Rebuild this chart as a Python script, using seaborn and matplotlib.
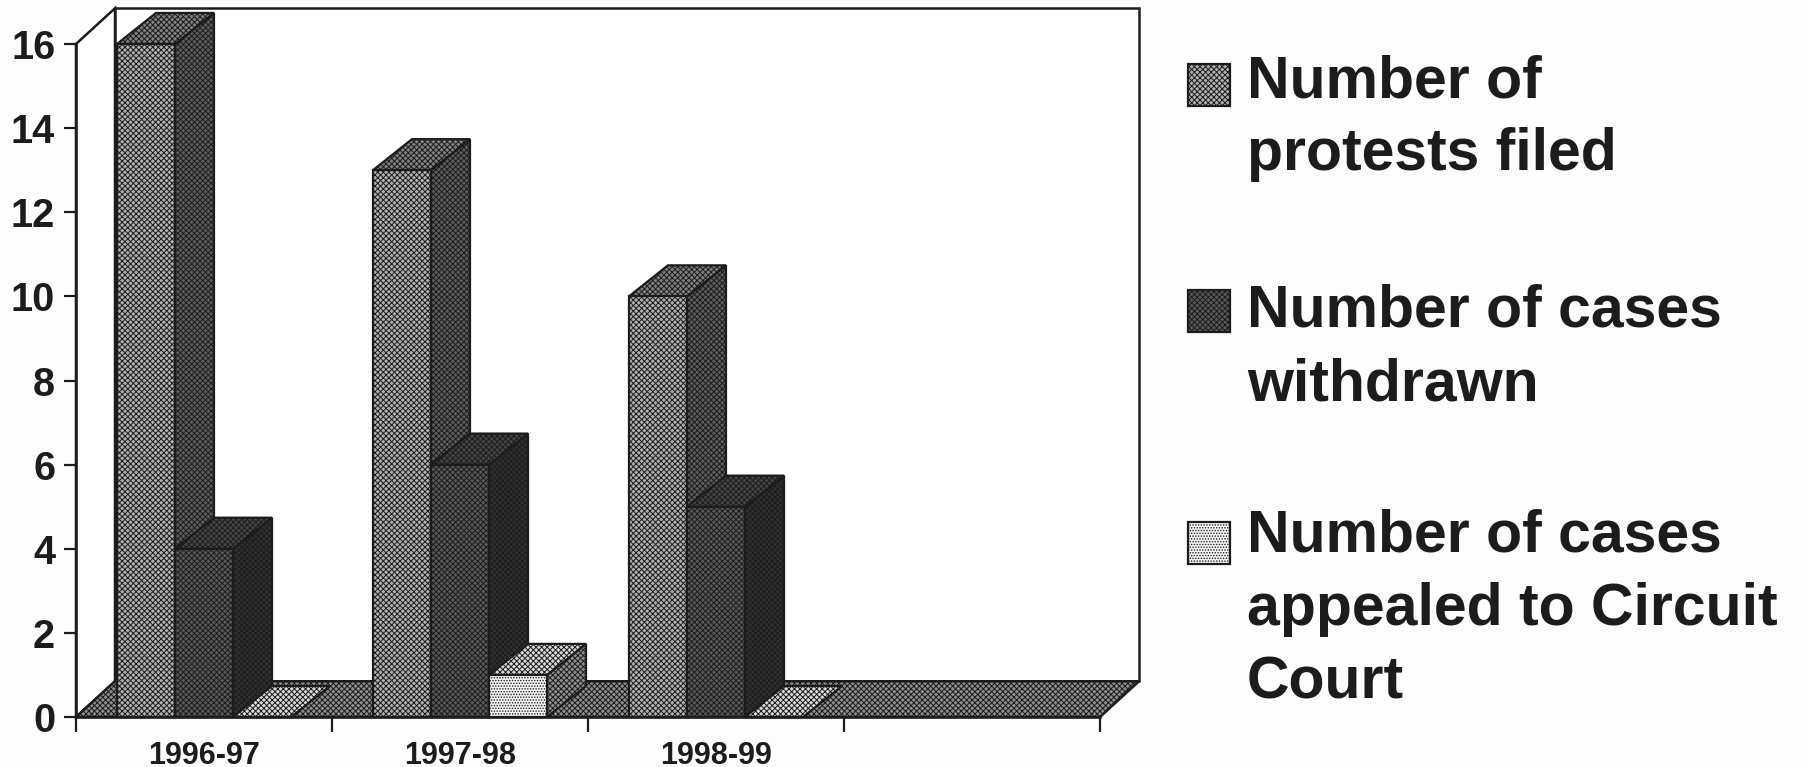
import matplotlib
matplotlib.use("Agg")
import matplotlib.pyplot as plt
import pandas as pd
import seaborn as sns
from matplotlib.patches import Polygon, Rectangle

# values
years = ["1996-97", "1997-98", "1998-99"]
protests_filed = [16, 13, 10]
cases_withdrawn = [4, 6, 5]
cases_appealed = [0, 1, 0]
legend_labels = [
    "Number of\nprotests filed",
    "Number of cases\nwithdrawn",
    "Number of cases\nappealed to Circuit\nCourt",
]
y_ticks = list(range(0, 17, 2))

W, H = 1807, 767
INK = "#1c1c1c"
PAPER = "#fdfdfd"

# face, side, top colours per series (the hatch on top makes the halftone look)
front_colors = ["#b0b0b0", "#585858", "#f6f6f6"]
side_colors = ["#5c5c5c", "#303030", "#8c8c8c"]
top_colors = ["#808080", "#444444", "#d8d8d8"]
front_hatch = ["xxxxxx", "xxxxxx", "......"]
side_hatch = ["xxxxxx", "xxxxxx", "xxxxxx"]
top_hatch = ["xxxxxx", "xxxxxx", "xxxxxx"]

# 3D depth of bars and of the box, in data units
BAR_DX, BAR_DY = 39 / 256, 31 / 42
BOX_DX, BOX_DY = 39 / 256, 0.85


def fx(px):
    return px / W


def fy(px):
    return 1 - px / H


def main():
    sns.set_theme(style="white")
    plt.rcParams["font.family"] = ["Liberation Sans", "DejaVu Sans"]
    plt.rcParams["hatch.linewidth"] = 0.7

    df = pd.DataFrame({
        "year": years * 3,
        "count": protests_filed + cases_withdrawn + cases_appealed,
        "measure": [s for s in legend_labels for _ in years],
    })

    fig = plt.figure(figsize=(W / 100, H / 100), dpi=100, facecolor=PAPER)
    ax = fig.add_axes([fx(76), fy(717), fx(1100) - fx(76), fy(44) - fy(717)])
    ax.patch.set_visible(False)

    sns.barplot(data=df, x="year", y="count", hue="measure", hue_order=legend_labels,
                width=0.68, gap=0, palette=front_colors, legend=False, ax=ax, zorder=10)

    ax.set_xlim(-0.5, 3.5)
    ax.set_ylim(0, 16)

    # back wall and floor of the box
    x0, x1 = ax.get_xlim()
    y1 = ax.get_ylim()[1]
    ax.add_patch(Polygon([(x0, 0), (x0 + BOX_DX, BOX_DY), (x0 + BOX_DX, y1 + BOX_DY), (x0, y1)],
                         closed=True, fc="white", ec=INK, lw=1.8, clip_on=False, zorder=1))
    ax.add_patch(Polygon([(x0 + BOX_DX, BOX_DY), (x1 + BOX_DX, BOX_DY),
                          (x1 + BOX_DX, y1 + BOX_DY), (x0 + BOX_DX, y1 + BOX_DY)],
                         closed=True, fc="white", ec=INK, lw=1.8, clip_on=False, zorder=1))
    ax.add_patch(Polygon([(x0, 0), (x1, 0), (x1 + BOX_DX, BOX_DY), (x0 + BOX_DX, BOX_DY)],
                         closed=True, fc="#8c8c8c", ec=INK, lw=1.8, hatch="xxxxxx",
                         clip_on=False, zorder=2))

    # side and top faces built from the bars seaborn drew
    for i, bars in enumerate(ax.containers):
        for bar in bars:
            left, right = bar.get_x(), bar.get_x() + bar.get_width()
            h = bar.get_height()
            z = 4 + i * 3
            bar.set(facecolor=front_colors[i], edgecolor=INK, linewidth=1.6,
                    hatch=front_hatch[i], zorder=z + 2, clip_on=False)
            if h > 0:
                ax.add_patch(Polygon([(right, 0), (right + BAR_DX, BAR_DY),
                                      (right + BAR_DX, h + BAR_DY), (right, h)],
                                     closed=True, fc=side_colors[i], ec=INK, lw=1.6,
                                     hatch=side_hatch[i], clip_on=False, zorder=z))
            ax.add_patch(Polygon([(left, h), (right, h), (right + BAR_DX, h + BAR_DY),
                                  (left + BAR_DX, h + BAR_DY)],
                                 closed=True, fc=top_colors[i], ec=INK, lw=1.6,
                                 hatch=top_hatch[i], clip_on=False, zorder=z + 1))

    # axes
    sns.despine(ax=ax, top=True, right=True)
    for side in ["left", "bottom"]:
        ax.spines[side].set(color=INK, linewidth=1.8, zorder=20)
    ax.set_xlabel("")
    ax.set_ylabel("")
    ax.set_yticks(y_ticks)
    ax.set_yticklabels([str(v) for v in y_ticks], fontsize=28.5, fontweight="bold", color=INK)
    ax.tick_params(axis="y", left=True, length=9, width=1.6, color=INK, pad=6)
    ax.set_xticks([-0.5, 0.5, 1.5, 2.5, 3.5])
    ax.set_xticklabels([])
    ax.set_xticks([0, 1, 2], labels=years, minor=True)
    ax.tick_params(axis="x", which="major", bottom=True, length=11, width=1.6, color=INK)
    ax.tick_params(axis="x", which="minor", bottom=False, pad=13, labelsize=22, labelcolor=INK)
    for label in ax.get_xticklabels(minor=True):
        label.set_fontweight("bold")

    # legend, placed by hand beside the plot
    swatch_tops = [64, 290, 522]
    text_tops = [54, 284, 509]
    for i, label in enumerate(legend_labels):
        fig.add_artist(Rectangle((fx(1188), fy(swatch_tops[i] + 42)), 42 / W, 42 / H,
                                 transform=fig.transFigure, fc=front_colors[i], ec=INK,
                                 lw=1.6, hatch=front_hatch[i]))
        fig.text(fx(1247), fy(text_tops[i]), label, fontsize=42.5, fontweight="bold",
                 color=INK, va="top", ha="left", linespacing=1.42)

    fig.savefig("out.png", dpi=100, facecolor=PAPER)


if __name__ == "__main__":
    main()
